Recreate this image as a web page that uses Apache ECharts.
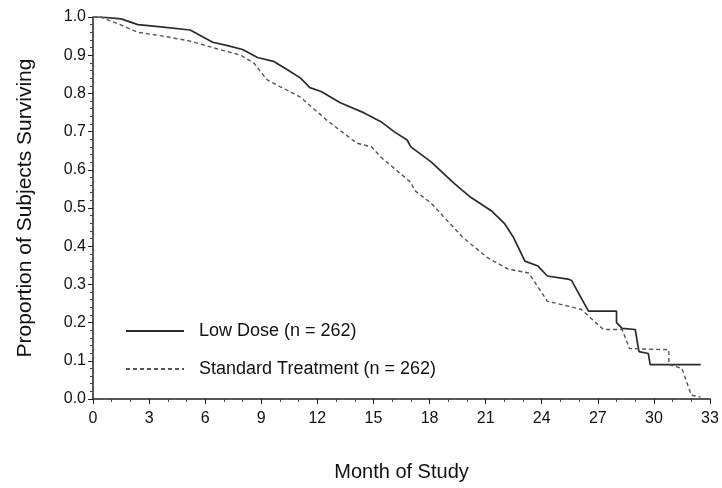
<!DOCTYPE html>
<html><head><meta charset="utf-8">
<script src="https://cdn.jsdelivr.net/npm/echarts@6/dist/echarts.min.js"></script>
<style>html,body{margin:0;padding:0;background:#fff}#c{width:722px;height:488px}</style>
</head><body><div id="c"></div>
<script>
const seriesNames = ['Low Dose (n = 262)', 'Standard Treatment (n = 262)'];
const lowDose = [[0,1.0],[0.4,1.0],[1.5,0.995],[2.4,0.98],[3.5,0.975],[5.2,0.966],[6.4,0.934],[7.2,0.925],[8.0,0.915],[8.8,0.894],[9.65,0.884],[10.4,0.862],[11.1,0.84],[11.6,0.815],[12.2,0.805],[13.2,0.776],[14.5,0.749],[15.4,0.726],[16.1,0.70],[16.8,0.678],[17.0,0.66],[18.1,0.62],[19.3,0.565],[20.2,0.528],[21.3,0.493],[22.0,0.46],[22.5,0.422],[23.1,0.361],[23.8,0.348],[24.3,0.322],[25.4,0.314],[25.6,0.31],[26.5,0.23],[28.0,0.23],[28.0,0.2],[28.3,0.185],[29.0,0.182],[29.2,0.124],[29.7,0.119],[29.8,0.09],[32.5,0.09]];
const standard = [[0,1.0],[0.4,1.0],[1.45,0.98],[2.4,0.96],[3.75,0.95],[5.2,0.937],[6.4,0.92],[7.9,0.90],[8.6,0.88],[9.3,0.836],[10.0,0.818],[11.1,0.79],[12.5,0.73],[14.1,0.67],[14.9,0.66],[15.4,0.633],[17.0,0.567],[17.2,0.546],[18.1,0.512],[19.8,0.422],[21.1,0.37],[22.2,0.34],[23.3,0.33],[24.3,0.256],[26.1,0.235],[27.3,0.182],[28.3,0.182],[28.7,0.132],[30.8,0.129],[30.8,0.09],[31.5,0.08],[32.0,0.01],[32.5,0.005]];
const xTitle = 'Month of Study';
const yTitle = 'Proportion of Subjects Surviving';

const chart = echarts.init(document.getElementById('c'), null, {renderer:'canvas'});
const font = 'Liberation Sans, Arial, Helvetica, sans-serif';
chart.setOption({
  animation:false,
  backgroundColor:'#fff',
  grid:{left:93, right:12, top:17, bottom:89},
  legend:{
    orient:'vertical', left:120, top:317, itemWidth:58, itemHeight:18, itemGap:20,
    itemStyle:{opacity:0},
    textStyle:{fontFamily:font, fontSize:18, color:'#111', padding:[0,0,0,10]},
    data:seriesNames
  },
  xAxis:{
    type:'value', min:0, max:33, interval:3,
    name:xTitle, nameLocation:'middle', nameGap:63,
    nameTextStyle:{fontFamily:font, fontSize:20, color:'#111'},
    axisLine:{lineStyle:{color:'#222', width:1.5}},
    axisTick:{show:true, length:5, lineStyle:{color:'#222'}},
    minorTick:{show:true, splitNumber:3, length:3, lineStyle:{color:'#444'}},
    splitLine:{show:false},
    axisLabel:{fontFamily:font, fontSize:16, color:'#111', margin:12}
  },
  yAxis:{
    type:'value', min:0, max:1, interval:0.1,
    name:yTitle, nameLocation:'middle', nameGap:57, nameRotate:90,
    nameTextStyle:{fontFamily:font, fontSize:21, color:'#111'},
    axisLine:{show:true, lineStyle:{color:'#222', width:1.5}},
    axisTick:{show:true, length:5, lineStyle:{color:'#222'}},
    minorTick:{show:true, splitNumber:5, length:3, lineStyle:{color:'#444'}},
    splitLine:{show:false},
    axisLabel:{fontFamily:font, fontSize:16, color:'#111', margin:7, formatter:v=>v.toFixed(1)}
  },
  series:[
    {name:seriesNames[0], type:'line', data:lowDose, symbol:'none', showSymbol:false,
     lineStyle:{color:'#2a2a2a', width:1.7, type:'solid'}, itemStyle:{color:'#2a2a2a'}},
    {name:seriesNames[1], type:'line', data:standard, symbol:'none', showSymbol:false,
     lineStyle:{color:'#555', width:1.4, type:[4,3]}, itemStyle:{color:'#555'}}
  ]
});
</script></body></html>
